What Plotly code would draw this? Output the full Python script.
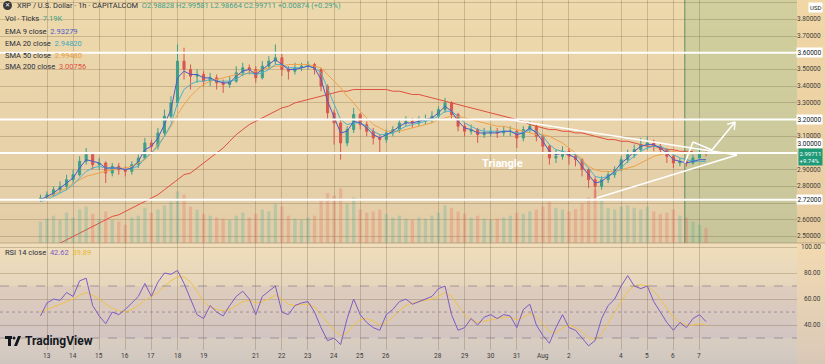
import plotly.graph_objects as go
import pandas as pd

# ---------------- data (6-hour sampling) ----------------
start_time = "2025-07-12 18:00"
n_bars = 103

close = [2.73,2.75,2.78,2.80,2.84,2.87,2.95,2.99,2.93,2.94,
         2.88,2.92,2.90,2.89,2.93,2.97,3.06,3.04,3.12,3.22,
         3.30,3.55,3.50,3.46,3.47,3.43,3.45,3.42,3.41,3.43,
         3.48,3.51,3.50,3.45,3.52,3.55,3.57,3.50,3.49,3.51,
         3.52,3.53,3.50,3.40,3.24,3.18,3.06,3.14,3.23,3.17,
         3.13,3.09,3.08,3.12,3.14,3.18,3.19,3.18,3.19,3.20,
         3.22,3.26,3.30,3.23,3.16,3.13,3.14,3.11,3.12,3.13,
         3.12,3.13,3.13,3.09,3.14,3.16,3.10,3.04,2.97,2.98,
         3.01,2.98,2.96,2.90,2.84,2.80,2.84,2.87,2.90,2.96,
         2.99,3.02,3.05,3.06,3.04,3.02,2.98,2.94,2.95,2.94,
         2.97,3.00,2.997]
first_open = 2.72
high = [2.75,2.77,2.80,2.83,2.87,2.90,2.98,3.03,3.00,2.97,
        2.95,2.94,2.94,2.92,2.95,2.99,3.09,3.08,3.15,3.26,
        3.34,3.65,3.63,3.53,3.50,3.49,3.48,3.47,3.44,3.46,
        3.52,3.54,3.53,3.52,3.55,3.58,3.65,3.60,3.52,3.54,
        3.54,3.55,3.54,3.51,3.41,3.26,3.20,3.16,3.27,3.24,
        3.19,3.15,3.11,3.14,3.16,3.20,3.22,3.21,3.22,3.23,
        3.25,3.28,3.33,3.31,3.24,3.18,3.17,3.15,3.15,3.16,
        3.15,3.16,3.16,3.14,3.16,3.19,3.17,3.11,3.05,3.02,
        3.04,3.03,3.00,2.97,2.91,2.86,2.86,2.89,2.92,2.98,
        3.02,3.05,3.09,3.10,3.08,3.06,3.03,2.99,2.97,2.97,
        2.99,3.02,3.01]
low = [2.71,2.72,2.74,2.76,2.78,2.82,2.86,2.93,2.90,2.90,
       2.82,2.86,2.87,2.86,2.87,2.91,2.96,3.00,3.02,3.10,
       3.19,3.28,3.44,3.38,3.42,3.40,3.40,3.38,3.36,3.39,
       3.42,3.46,3.47,3.42,3.44,3.50,3.53,3.46,3.44,3.47,
       3.49,3.50,3.47,3.37,3.20,3.05,2.96,3.04,3.12,3.14,
       3.10,3.05,3.00,3.06,3.10,3.12,3.16,3.15,3.16,3.17,
       3.18,3.20,3.24,3.20,3.13,3.10,3.11,3.06,3.09,3.10,
       3.09,3.10,3.10,3.03,3.07,3.12,3.07,3.00,2.93,2.94,
       2.96,2.93,2.92,2.86,2.79,2.73,2.78,2.82,2.85,2.89,
       2.94,2.97,3.00,3.02,3.01,2.99,2.94,2.91,2.92,2.92,
       2.93,2.96,2.98]
volume = [35,40,45,38,50,42,55,60,48,40,
          52,38,35,30,42,45,58,50,55,62,
          68,85,80,60,55,48,45,42,40,38,
          45,50,42,48,55,52,65,60,45,40,
          38,42,45,70,82,78,90,65,75,55,
          50,52,55,48,42,45,40,38,42,40,
          45,50,62,58,52,48,42,45,40,38,
          40,42,45,50,48,52,55,60,68,58,
          55,52,56,65,75,88,70,58,55,60,
          62,58,55,60,52,48,50,55,45,42,
          35,30,25]
ema9 = [2.72,2.74,2.76,2.79,2.82,2.85,2.91,2.96,2.95,2.94,
        2.91,2.91,2.91,2.90,2.91,2.95,3.02,3.04,3.09,3.17,
        3.26,3.45,3.49,3.47,3.47,3.45,3.45,3.43,3.42,3.42,
        3.46,3.49,3.50,3.47,3.50,3.53,3.56,3.53,3.50,3.50,
        3.51,3.52,3.51,3.44,3.31,3.22,3.12,3.13,3.19,3.18,
        3.15,3.11,3.09,3.11,3.13,3.16,3.18,3.18,3.19,3.20,
        3.21,3.24,3.28,3.25,3.19,3.15,3.14,3.12,3.12,3.12,
        3.12,3.13,3.13,3.11,3.12,3.15,3.12,3.07,3.01,2.99,
        3.00,2.99,2.97,2.92,2.87,2.82,2.83,2.86,2.89,2.94,
        2.97,3.01,3.04,3.05,3.05,3.03,3.00,2.96,2.95,2.94,
        2.95,2.96,2.96]
ema20 = [2.71,2.72,2.74,2.76,2.78,2.81,2.85,2.89,2.91,2.92,
         2.91,2.91,2.91,2.90,2.91,2.92,2.97,3.00,3.04,3.10,
         3.17,3.30,3.38,3.41,3.43,3.43,3.44,3.43,3.43,3.43,
         3.44,3.47,3.48,3.47,3.48,3.50,3.53,3.53,3.51,3.51,
         3.51,3.52,3.51,3.48,3.39,3.30,3.20,3.17,3.18,3.18,
         3.16,3.13,3.11,3.11,3.12,3.14,3.16,3.17,3.18,3.19,
         3.20,3.22,3.25,3.25,3.22,3.18,3.16,3.14,3.13,3.13,
         3.13,3.13,3.13,3.12,3.12,3.14,3.13,3.10,3.05,3.02,
         3.01,3.00,2.99,2.95,2.91,2.86,2.85,2.86,2.88,2.91,
         2.95,2.98,3.01,3.03,3.04,3.04,3.02,2.99,2.97,2.96,
         2.95,2.95,2.95]
sma50_first = 1
sma50 = [2.73,2.75,2.77,2.79,2.82,2.84,2.86,2.87,2.88,2.89,
         2.90,2.91,2.91,2.92,2.94,2.96,3.00,3.05,3.10,3.16,
         3.23,3.29,3.34,3.38,3.41,3.43,3.44,3.45,3.46,3.47,
         3.47,3.48,3.49,3.50,3.51,3.52,3.52,3.53,3.53,3.53,
         3.53,3.52,3.51,3.47,3.43,3.39,3.34,3.30,3.25,3.21,
         3.17,3.15,3.13,3.13,3.13,3.14,3.15,3.16,3.17,3.18,
         3.20,3.21,3.22,3.22,3.21,3.20,3.19,3.18,3.17,3.16,
         3.16,3.15,3.14,3.13,3.12,3.11,3.11,3.10,3.08,3.06,
         3.03,3.00,2.96,2.92,2.90,2.89,2.89,2.89,2.90,2.91,
         2.92,2.94,2.96,2.98,2.99,3.00,3.01,3.00,3.00,2.995]
sma200_first = 3
sma200 = [2.46,2.48,2.50,2.52,2.54,2.56,2.58,2.60,2.62,2.63,
          2.65,2.67,2.69,2.71,2.73,2.75,2.78,2.81,2.84,2.87,
          2.88,2.91,2.94,2.97,3.00,3.03,3.07,3.11,3.14,3.17,
          3.19,3.21,3.23,3.25,3.27,3.28,3.30,3.31,3.32,3.33,
          3.34,3.35,3.36,3.37,3.37,3.38,3.38,3.38,3.38,3.38,
          3.38,3.37,3.37,3.36,3.35,3.35,3.34,3.33,3.32,3.31,
          3.30,3.29,3.28,3.27,3.26,3.25,3.24,3.23,3.22,3.21,
          3.20,3.19,3.17,3.16,3.15,3.14,3.14,3.13,3.13,3.12,
          3.12,3.11,3.10,3.09,3.08,3.08,3.07,3.07,3.06,3.05,
          3.04,3.04,3.03,3.02,3.02,3.01,3.01,3.008]
rsi = [47,57,60,59,65,62,74,76,55,47,
       41,50,48,52,57,62,72,62,73,80,
       79,82,72,60,48,45,55,50,47,55,
       62,66,60,48,62,66,70,50,48,55,
       57,58,50,38,28,30,25,45,60,48,
       42,38,36,48,52,58,60,56,58,60,
       62,68,70,48,36,38,45,40,46,48,
       45,48,47,38,52,56,40,32,26,38,
       48,38,36,30,24,28,45,55,60,70,
       78,70,68,70,58,50,42,36,42,38,
       45,48,42.62]
rsi_ma = [50,52,54,56,58,60,63,65,63,60,
          56,53,51,50,52,55,59,62,65,70,
          74,77,77,73,66,58,54,52,51,52,
          55,58,59,57,58,60,63,60,56,55,
          56,56,54,48,42,36,32,34,40,44,
          45,43,40,42,46,51,55,57,58,59,
          60,62,65,62,55,48,44,42,43,44,
          45,46,46,44,46,49,46,41,35,34,
          38,40,38,35,30,29,33,42,50,58,
          66,70,71,70,66,60,53,46,42,40,
          40,41,39.89]

# axis labels / levels
date_ticks = ["2025-07-13","2025-07-14","2025-07-15","2025-07-16","2025-07-17","2025-07-18",
              "2025-07-19","2025-07-21","2025-07-22","2025-07-23","2025-07-24","2025-07-25",
              "2025-07-26","2025-07-28","2025-07-29","2025-07-30","2025-07-31","2025-08-01",
              "2025-08-02","2025-08-04","2025-08-05","2025-08-06","2025-08-07"]
date_labels = ["13","14","15","16","17","18","19","21","22","23","24","25","26",
               "28","29","30","31","Aug","2","4","5","6","7"]
price_ticks = [3.8,3.7,3.5,3.4,3.3,3.1,2.9,2.8,2.6,2.5]
level_lines = [3.60, 3.20, 3.00, 2.72]
rsi_ticks = [100, 80, 60, 40]
last_price = 2.99711
last_change = "+9.74%"

# drawings (time, price)
tri_upper = [("2025-07-30 13:00", 3.204), ("2025-08-08 10:30", 2.988)]
tri_lower = [("2025-08-03 01:30", 2.730), ("2025-08-08 10:30", 2.988)]
zigzag = [("2025-08-06 10:30", 2.940), ("2025-08-06 18:00", 3.066),
          ("2025-08-07 11:30", 3.018), ("2025-08-08 08:40", 3.186)]
arrow_legs = [("2025-08-08 01:30", 3.172), ("2025-08-08 08:00", 3.138)]
future_zone_start = "2025-08-06 10:30"
x_range = ["2025-07-11 04:47", "2025-08-10 17:40"]

# ---------------- figure ----------------
times = pd.date_range(start_time, periods=n_bars, freq="6h")
opens = [first_open] + close[:-1]

PW, PH = 797, 350
MAIN_BOT = 243
main_dom0 = 1 - MAIN_BOT / PH

def px(x):
    return x / PW

def py(y):
    return 1 - y / PH

UP = "#3f9f8a"
DN = "#d9574f"

fig = go.Figure()

vol_colors = ["rgba(60,170,150,0.25)" if c >= o else "rgba(230,90,85,0.25)" for o, c in zip(opens, close)]
fig.add_trace(go.Bar(x=times, y=volume, marker_color=vol_colors, marker_line_width=0,
                     yaxis="y3", xaxis="x", hoverinfo="skip"))

fig.add_trace(go.Scatter(x=times[sma200_first:sma200_first + len(sma200)], y=sma200, mode="lines",
                         line=dict(color="#e05040", width=1), yaxis="y"))
fig.add_trace(go.Scatter(x=times[sma50_first:sma50_first + len(sma50)], y=sma50, mode="lines",
                         line=dict(color="#eea24a", width=1), yaxis="y"))
fig.add_trace(go.Scatter(x=times, y=ema20, mode="lines", line=dict(color="#4fb3c8", width=1), yaxis="y"))
fig.add_trace(go.Scatter(x=times, y=ema9, mode="lines", line=dict(color="#4b5cc8", width=1), yaxis="y"))

fig.add_trace(go.Candlestick(x=times, open=opens, high=high, low=low, close=close,
                             increasing=dict(line=dict(color=UP, width=1), fillcolor=UP),
                             decreasing=dict(line=dict(color=DN, width=1), fillcolor=DN),
                             whiskerwidth=0, yaxis="y", xaxis="x"))

fig.add_trace(go.Scatter(x=times, y=rsi_ma, mode="lines", line=dict(color="#f0c24a", width=1), yaxis="y2"))
fig.add_trace(go.Scatter(x=times, y=rsi, mode="lines", line=dict(color="#7e5bc6", width=1), yaxis="y2"))

shapes = []
# background gradient bands
stops = [(0, (238, 217, 172)), (243, (226, 205, 168)), (244, (240, 221, 185)),
         (350, (214, 203, 194)), (364, (206, 198, 190))]

def col_at(y):
    for (y0, c0), (y1, c1) in zip(stops[:-1], stops[1:]):
        if y0 <= y <= y1:
            t = 0 if y1 == y0 else (y - y0) / (y1 - y0)
            return tuple(int(round(a + (b - a) * t)) for a, b in zip(c0, c1))
    return stops[-1][1]

step = 3
for yb in range(0, 364, step):
    c = col_at(yb + step / 2)
    shapes.append(dict(type="rect", xref="paper", yref="paper", x0=-0.01, x1=1.05,
                       y0=py(yb + step), y1=py(yb), fillcolor="rgb(%d,%d,%d)" % c,
                       line=dict(width=0), layer="below"))
# price-scale column tint
shapes.append(dict(type="rect", xref="paper", yref="paper", x0=1, x1=1.05, y0=py(364), y1=1,
                   fillcolor="rgba(255,205,140,0.18)", line=dict(width=0), layer="below"))
# future zone
shapes.append(dict(type="rect", xref="x", yref="paper", x0=future_zone_start, x1=x_range[1],
                   y0=main_dom0, y1=1, fillcolor="rgba(90,165,100,0.19)", line=dict(width=0), layer="below"))
shapes.append(dict(type="line", xref="x", yref="paper", x0=future_zone_start, x1=future_zone_start,
                   y0=main_dom0, y1=1, line=dict(color="rgba(40,110,70,0.7)", width=1)))
# RSI band & dashed levels
shapes.append(dict(type="rect", xref="paper", yref="y2", x0=0, x1=1, y0=30, y1=70,
                   fillcolor="rgba(126,87,194,0.07)", line=dict(width=0), layer="below"))
for lv, dash in [(70, "dash"), (50, "dot"), (30, "dash")]:
    shapes.append(dict(type="line", xref="paper", yref="y2", x0=0, x1=1, y0=lv, y1=lv,
                       line=dict(color="rgba(120,110,130,0.6)", width=1, dash=dash)))
# pane separator
shapes.append(dict(type="line", xref="paper", yref="paper", x0=0, x1=1.05, y0=main_dom0, y1=main_dom0,
                   line=dict(color="rgba(150,130,100,0.5)", width=1)))
# white level lines
for lv in level_lines:
    shapes.append(dict(type="line", xref="paper", yref="y", x0=0, x1=1, y0=lv, y1=lv,
                       line=dict(color="white", width=2)))
# triangle & zigzag drawings
def seg(a, b, w=1.5):
    return dict(type="line", xref="x", yref="y", x0=a[0], y0=a[1], x1=b[0], y1=b[1],
                line=dict(color="white", width=w))
shapes.append(seg(*tri_upper))
shapes.append(seg(*tri_lower))
for a, b in zip(zigzag[:-1], zigzag[1:]):
    shapes.append(seg(a, b))
for leg in arrow_legs:
    shapes.append(seg(zigzag[-1], leg))
# TradingView logo glyph
shapes.append(dict(type="rect", xref="paper", yref="paper", x0=px(5), x1=px(12), y0=py(339), y1=py(336),
                   fillcolor="#131722", line=dict(width=0)))
shapes.append(dict(type="rect", xref="paper", yref="paper", x0=px(8), x1=px(11), y0=py(346), y1=py(336),
                   fillcolor="#131722", line=dict(width=0)))
shapes.append(dict(type="circle", xref="paper", yref="paper", x0=px(12.5), x1=px(15.5), y0=py(339.5), y1=py(336.5),
                   fillcolor="#131722", line=dict(width=0)))
shapes.append(dict(type="path", xref="paper", yref="paper",
                   path="M %f %f L %f %f L %f %f L %f %f Z" % (px(14), py(346), px(18), py(336), px(21), py(336), px(17), py(346)),
                   fillcolor="#131722", line=dict(width=0)))
# XRP icon
shapes.append(dict(type="circle", xref="paper", yref="paper", x0=px(3), x1=px(12), y0=py(10), y1=py(1),
                   fillcolor="#3a3a3a", line=dict(width=0)))

ann = []
FONT = "Roboto"
lab = "#2a2e39"

def txt(x, y, s, size=8, color=lab, anchor="left", bold=False, bg=None):
    d = dict(xref="paper", yref="paper", x=px(x), y=py(y), text=("<b>%s</b>" % s) if bold else s,
             showarrow=False, xanchor=anchor, yanchor="middle",
             font=dict(family=FONT, size=size, color=color))
    if bg:
        d.update(bgcolor=bg, borderpad=1)
    ann.append(d)

ann.append(dict(xref="paper", yref="paper", x=px(7.5), y=py(5.5), text="✕", showarrow=False,
                font=dict(size=6, color="white"), xanchor="center", yanchor="middle"))
g = "#3f9f8a"
txt(15, 5.5, "XRP / U.S. Dollar · 1h · CAPITALCOM  "
    "<span style='color:%s'>O2.98828 H2.99581 L2.98664 C2.99711 +0.00874 (+0.29%%)</span>" % g, size=7.5)
txt(3, 19, "Vol · Ticks  <span style='color:%s'>7.19K</span>" % g, size=7.5)
txt(3, 32, "EMA 9 close  <span style='color:#4b5cc8'>2.93279</span>", size=7.5)
txt(3, 43.5, "EMA 20 close  <span style='color:#3fa7bb'>2.94820</span>", size=7.5)
txt(3, 55, "SMA 50 close  <span style='color:#e99a3a'>2.99480</span>", size=7.5)
txt(3, 66.5, "SMA 200 close  <span style='color:#e05040'>3.00756</span>", size=7.5)
txt(3, 252, "RSI 14 close  <span style='color:#7e5bc6'>42.62</span>  <span style='color:#e8b830'>39.89</span>", size=7.5)
txt(23, 341, "TradingView", size=12, color="#131722", bold=True)

# price scale labels (right-anchored inside the 28px scale column)
XR = px(823)
for p in price_ticks:
    ann.append(dict(xref="paper", yref="y", x=XR, y=p, text="%.5f" % p, showarrow=False,
                    xanchor="right", yanchor="middle", font=dict(family=FONT, size=6.5, color="#3a3a3a")))
for p, yp in [(3.60, 3.60), (3.20, 3.20), (2.72, 2.72), (3.00, 3.058)]:
    ann.append(dict(xref="paper", yref="y", x=XR, y=yp, text="%.5f" % p, showarrow=False,
                    xanchor="right", yanchor="middle", bgcolor="white", borderpad=0.5,
                    font=dict(family=FONT, size=6.5, color="#131722")))
ann.append(dict(xref="paper", yref="y", x=XR, y=2.978, text="%.5f<br>%s" % (last_price, last_change),
                showarrow=False, xanchor="right", yanchor="middle", bgcolor="#1f9a78", borderpad=0.5, align="left",
                font=dict(family=FONT, size=6, color="white")))
txt(823, 7, "USD", size=6, color="#131722", anchor="right", bg="white")
for r in rsi_ticks:
    ann.append(dict(xref="paper", yref="y2", x=XR, y=r, text="%.2f" % r, showarrow=False,
                    xanchor="right", yanchor="middle", font=dict(family=FONT, size=6.5, color="#3a3a3a")))
# date labels
for d, s in zip(date_ticks, date_labels):
    ann.append(dict(xref="x", yref="paper", x=d, y=py(356), text=s, showarrow=False,
                    xanchor="center", yanchor="middle", font=dict(family=FONT, size=6.5, color="#3a3a3a")))
# Triangle label
ann.append(dict(xref="x", yref="y", x="2025-07-30 11:00", y=2.94, text="<b>Triangle</b>", showarrow=False,
                xanchor="center", yanchor="middle", font=dict(family=FONT, size=11, color="white")))

grid = "rgba(110,90,60,0.28)"
fig.update_layout(
    width=825, height=364, margin=dict(l=0, r=28, t=0, b=14),
    paper_bgcolor="rgb(226,208,180)", plot_bgcolor="rgba(0,0,0,0)",
    showlegend=False, bargap=0.5, boxgap=0.55,
    shapes=shapes, annotations=ann,
    xaxis=dict(domain=[0, 1], anchor="y2", range=x_range, type="date",
               tickvals=date_ticks, showticklabels=False, ticks="",
               showgrid=True, gridcolor=grid, gridwidth=1, zeroline=False,
               showline=False, rangeslider=dict(visible=False), fixedrange=True),
    yaxis=dict(domain=[main_dom0, 1], range=[2.461, 3.916], dtick=0.1, tick0=2.5,
               showgrid=True, gridcolor=grid, showticklabels=False, zeroline=False, side="right"),
    yaxis3=dict(domain=[main_dom0, 1], overlaying="y", range=[0, 400], visible=False),
    yaxis2=dict(domain=[0, main_dom0], range=[20.8, 103.1], tickvals=rsi_ticks,
                showgrid=True, gridcolor=grid, showticklabels=False, zeroline=False, side="right"),
)

fig.write_html("out.html", config={"displayModeBar": False},
               post_script="document.body.style.margin='0';document.body.style.padding='0';"
                           "document.body.style.overflow='hidden';")
